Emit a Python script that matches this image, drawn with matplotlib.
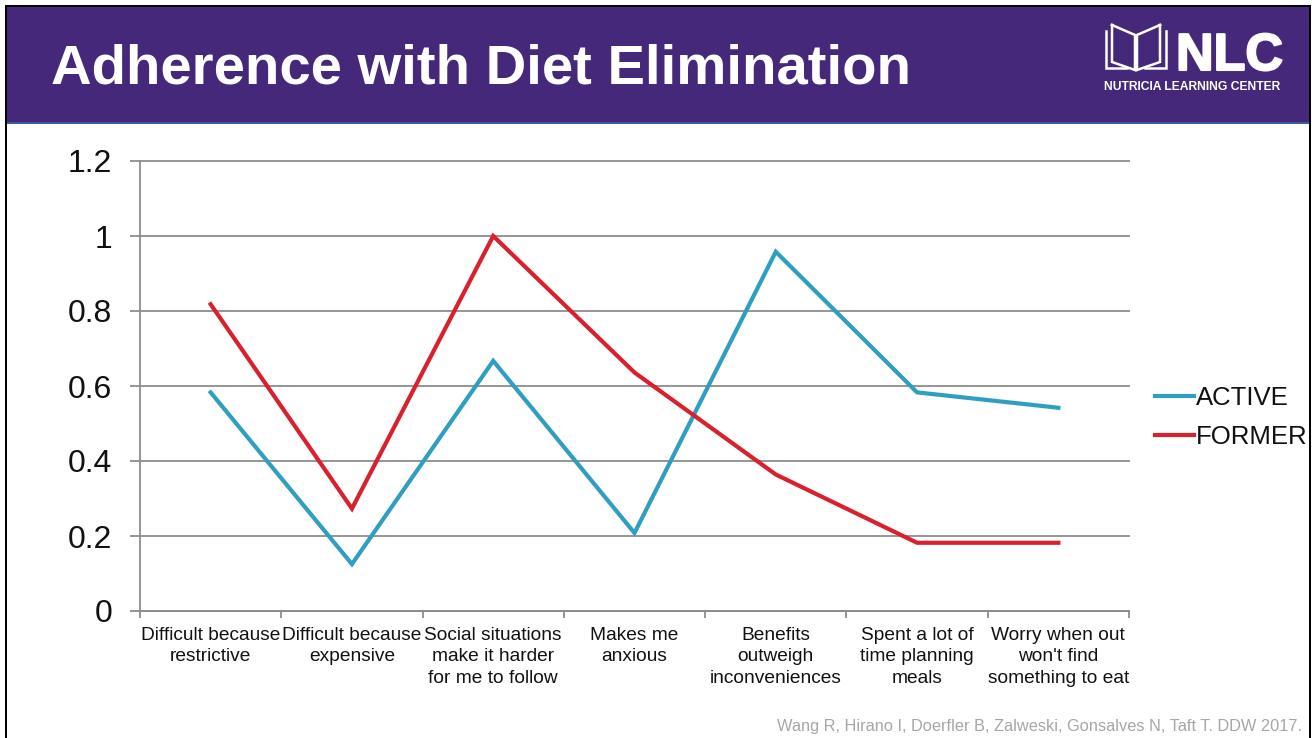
import matplotlib
matplotlib.use('Agg')
import matplotlib.pyplot as plt
import matplotlib.patheffects as pe
from matplotlib.patches import Rectangle

plt.rcParams['font.family'] = ['Liberation Sans', 'DejaVu Sans']

categories = ['Difficult because\nrestrictive', 'Difficult because\nexpensive',
              'Social situations\nmake it harder\nfor me to follow', 'Makes me\nanxious',
              'Benefits\noutweigh\ninconveniences', 'Spent a lot of\ntime planning\nmeals',
              "Worry when out\nwon't find\nsomething to eat"]
active = [0.583, 0.125, 0.667, 0.208, 0.958, 0.583, 0.542]
former = [0.818, 0.273, 1.0, 0.636, 0.364, 0.182, 0.182]
yticks = [0, 0.2, 0.4, 0.6, 0.8, 1, 1.2]
ylabels = ['0', '0.2', '0.4', '0.6', '0.8', '1', '1.2']

W, H = 1312, 738
PURPLE = '#46287a'
GRID = '#8c8c8c'

fig = plt.figure(figsize=(W / 100, H / 100), dpi=100, facecolor='white')

# slide furniture, in pixel coordinates
bg = fig.add_axes([0, 0, 1, 1])
bg.set_xlim(0, W)
bg.set_ylim(H, 0)
bg.axis('off')
bg.add_patch(Rectangle((7, 7), 1302, 115, fc=PURPLE, ec='none'))
bg.add_patch(Rectangle((7, 122), 1302, 2, fc='#3d5a9e', ec='none'))
bg.add_patch(Rectangle((5, 5), 1306, 2, fc='black', ec='none'))
bg.add_patch(Rectangle((5, 5), 2, H - 5, fc='black', ec='none'))
bg.add_patch(Rectangle((1309, 5), 2, H - 5, fc='black', ec='none'))
bg.text(51, 64, 'Adherence with Diet Elimination', color='white', fontsize=40.5,
        fontweight='bold', va='center_baseline', ha='left')

# open book logo
book_left = [(1112, 25), (1135, 35), (1135, 70), (1112, 62), (1112, 25)]
book_right = [(1160, 25), (1137, 35), (1137, 70), (1160, 62), (1160, 25)]
back_left = [(1106, 31), (1106, 68), (1127, 68)]
back_right = [(1166, 31), (1166, 68), (1145, 68)]
for pts in (book_left, book_right, back_left, back_right):
    bg.plot([p[0] for p in pts], [p[1] for p in pts], color='white', lw=1.8,
            solid_joinstyle='miter')
nlc = bg.text(1229.5, 51, 'NLC', color='white', fontsize=37.5, fontweight='bold',
              ha='center', va='center_baseline')
nlc.set_path_effects([pe.withStroke(linewidth=1.5, foreground='white')])
bg.text(1192.5, 87, 'NUTRICIA LEARNING CENTER', color='white', fontsize=8.7,
        fontweight='bold', ha='center', va='center')

bg.text(1302, 727, 'Wang R, Hirano I, Doerfler B, Zalweski, Gonsalves N, Taft T. DDW 2017.',
        color='#a6a6a6', fontsize=11.82, ha='right', va='center')

# line chart
ax = fig.add_axes([140 / W, (H - 611) / H, (1129 - 140) / W, (611 - 161) / H])
ax.patch.set_alpha(0)
x = list(range(len(categories)))
ax.plot(x, active, color='#2e9fc0', lw=3, label='ACTIVE', solid_joinstyle='miter')
ax.plot(x, former, color='#d9202c', lw=3, label='FORMER', solid_joinstyle='miter')
ax.set_xlim(-0.5, len(categories) - 0.5)
ax.set_ylim(0, 1.2)

ax.set_yticks(yticks)
ax.set_yticklabels(ylabels, fontsize=23, color='#111111')
ax.set_xticks([i - 0.5 for i in range(len(categories) + 1)], minor=False)
ax.set_xticklabels([])
ax.tick_params(axis='y', length=7, width=1.3, color=GRID, pad=13)
ax.tick_params(axis='x', length=5, width=1.3, color=GRID, direction='out')
ax.grid(axis='y', color=GRID, lw=1.3, clip_on=False)
ax.set_axisbelow(True)
for side in ('top', 'right'):
    ax.spines[side].set_visible(False)
for side in ('left', 'bottom'):
    ax.spines[side].set_color(GRID)
    ax.spines[side].set_linewidth(1.3)

for i, label in enumerate(categories):
    bg.text(140 + (i + 0.5) * (1129 - 140) / 7, 626.5, label, ha='center', va='top',
            fontsize=13.8, color='#111111', linespacing=1.36)

ax.legend(loc='center left', bbox_to_anchor=(1155 / W, (H - 417.5) / H),
          bbox_transform=fig.transFigure, frameon=False, fontsize=18.5,
          handlelength=1.5, handletextpad=0.1, labelspacing=0.58,
          borderpad=0, borderaxespad=0, labelcolor='#111111')

fig.savefig('out.png', dpi=100)
